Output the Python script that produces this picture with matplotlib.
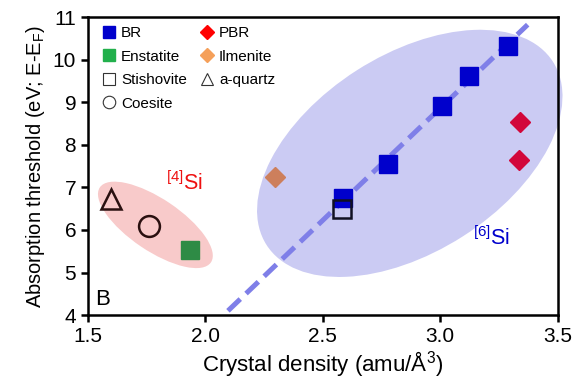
import numpy as np
import matplotlib
matplotlib.use('Agg')
import matplotlib.pyplot as plt
from matplotlib.patches import Ellipse
from matplotlib.lines import Line2D
from matplotlib.transforms import ScaledTranslation

plt.rcParams['font.family'] = ['Liberation Sans', 'DejaVu Sans']
plt.rcParams['mathtext.fontset'] = 'custom'
plt.rcParams['mathtext.rm'] = 'Liberation Sans'
plt.rcParams['mathtext.it'] = 'Liberation Sans'

# density (amu/A^3) and absorption threshold (eV)
br_x = [2.585, 2.777, 3.006, 3.121, 3.287]
br_y = [6.74, 7.56, 8.91, 9.61, 10.32]
pbr_x = [3.34, 3.335]
pbr_y = [8.53, 7.64]
ilm_x = [2.296]
ilm_y = [7.24]
ens_x = [1.934]
ens_y = [5.54]
sti_x = [2.58]
sti_y = [6.49]
coe_x = [1.76]
coe_y = [6.09]
qtz_x = [1.60]
qtz_y = [6.72]

fig = plt.figure(figsize=(5.75, 3.9), dpi=100)
ax = fig.add_axes([0.153, 0.192, 0.817, 0.764])
ax.set_xlim(1.5, 3.5)
ax.set_ylim(4, 11)

# shaded groups: centre in data units, size in inches, tilt in screen degrees
def blob(cx, cy, w, h, ang, col):
    tr = fig.dpi_scale_trans + ScaledTranslation(cx, cy, ax.transData)
    e = Ellipse((0, 0), w, h, angle=ang, transform=tr, facecolor=col,
                edgecolor='none', zorder=1, clip_on=False)
    ax.add_patch(e)

blob(2.870, 7.80, 3.40, 1.97, 32.6, '#cbcbf3')
blob(1.787, 6.12, 1.34, 0.52, -34, '#f8caca')

# linear fit through the BR points
k, b = np.polyfit(br_x, br_y, 1)
fx = np.array([2.096, 3.372])
ax.plot(fx, k * fx + b, color='#7f7fe8', lw=3.6, dashes=(3.4, 1.6),
        solid_capstyle='butt', zorder=2)

ax.plot(br_x, br_y, 's', ms=12.5, color='#0000cc', zorder=4)
ax.plot(pbr_x, pbr_y, 'D', ms=10, color='#d2073a', zorder=4)
ax.plot(ilm_x, ilm_y, 'D', ms=10, color='#cd7f5c', zorder=4)
ax.plot(ens_x, ens_y, 's', ms=12.5, color='#2e8b45', zorder=4)
ax.plot(sti_x, sti_y, 's', ms=12.5, mfc='none', mec='#111122', mew=1.8, zorder=5)
ax.plot(coe_x, coe_y, 'o', ms=15, mfc='none', mec='#2a1010', mew=1.8, zorder=4)
ax.plot(qtz_x, qtz_y, '^', ms=15, mfc='none', mec='#2a1010', mew=1.8, zorder=4)

handles = [
    Line2D([], [], ls='none', marker='s', ms=8, color='#0000cc'),
    Line2D([], [], ls='none', marker='s', ms=8, color='#22b04c'),
    Line2D([], [], ls='none', marker='s', ms=8, mfc='none', mec='#333333', mew=0.8),
    Line2D([], [], ls='none', marker='o', ms=9, mfc='none', mec='#333333', mew=0.8),
    Line2D([], [], ls='none', marker='D', ms=7, color='#ff0000'),
    Line2D([], [], ls='none', marker='D', ms=7, color='#f5a05a'),
    Line2D([], [], ls='none', marker='^', ms=9, mfc='none', mec='#333333', mew=0.8),
]
labels = ['BR', 'Enstatite', 'Stishovite', 'Coesite', 'PBR', 'Ilmenite', 'a-quartz']
ax.legend(handles, labels, ncol=2, loc='upper left', frameon=False,
          fontsize=11, handlelength=0.8, handletextpad=0.4, columnspacing=0.9,
          labelspacing=0.62, borderaxespad=0.2, bbox_to_anchor=(0.012, 1.0))

ax.text(1.91, 7.1, r'$^{[4]}$Si', color='#ee1111', fontsize=15.5, ha='center', va='center')
ax.text(3.22, 5.8, r'$^{[6]}$Si', color='#0000cc', fontsize=15.5, ha='center', va='center')
ax.text(1.53, 4.12, 'B', fontsize=16, ha='left', va='bottom')

ax.set_xticks([1.5, 2.0, 2.5, 3.0, 3.5])
ax.set_xticklabels(['1.5', '2.0', '2.5', '3.0', '3.5'])
ax.set_yticks(range(4, 12))
ax.tick_params(labelsize=15, width=1.8, length=5, direction='out')
for s in ax.spines.values():
    s.set_linewidth(1.8)

ax.set_xlabel(r'Crystal density (amu/Å$^3$)', fontsize=16, labelpad=2)
ax.set_ylabel(r'Absorption threshold (eV; E-E$_\mathrm{F}$)', fontsize=14.5, labelpad=4)

fig.savefig('out.png', dpi=100)
